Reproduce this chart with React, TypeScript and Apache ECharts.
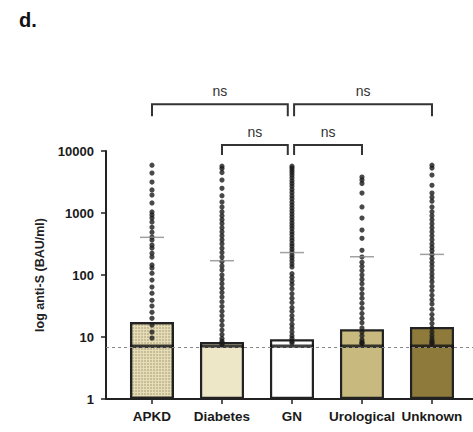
import React, { useEffect, useRef } from "react";
import * as echarts from "echarts";

const categories = ["APKD", "Diabetes", "GN", "Urological", "Unknown"];
const barValues = [17.5, 8.3, 9.2, 13.3, 14.5];
const medianValues = [7.1, 7.1, 7.1, 7.1, 7.1];
const meanValues = [405, 170, 230, 197, 215];
const cutoff = 6.8;
const barColors = ["#e6dcb6", "#ede6c7", "#ffffff", "#c8b97f", "#8e7b3b"];
const yTickLabels = ["1", "10", "100", "1000", "10000"];

const apkd = [5900, 4400, 3150, 2350, 1950, 1450, 1040, 930, 830, 716, 590, 490, 410, 367, 304, 272, 225, 195, 145, 130, 107, 83, 64, 51, 39, 31.6, 25, 20, 15.6, 12, 9.6];
const diabetes = [5700, 5200, 4500, 3400, 2500, 1900, 1500, 1250, 1050, 900, 780, 680, 580, 500, 430, 370, 320, 270, 230, 195, 165, 140, 120, 100, 85, 72, 61, 52, 44, 37, 31, 26, 22, 18.5, 15.5, 13, 11, 9.5, 8.5, 8, 7.6];
const gn = [5700, 5300, 4900, 4500, 4100, 3700, 3300, 3000, 2700, 2400, 2150, 1900, 1700, 1500, 1350, 1200, 1080, 960, 860, 770, 690, 620, 560, 500, 450, 400, 360, 320, 290, 260, 235, 210, 190, 170, 150, 135, 105, 92, 80, 70, 60, 50, 42, 36, 30, 26, 22, 19, 16, 14, 12, 10.5, 9.5, 8.5, 8];
const urological = [3800, 3400, 3000, 2100, 1250, 830, 530, 390, 250, 195, 160, 138, 118, 100, 85, 72, 60, 50, 42, 35, 29, 24, 20, 17, 14, 12, 10.5, 9, 8.3, 8, 7.8];
const unknown = [5900, 5300, 4100, 2800, 2100, 1800, 1550, 1250, 1050, 900, 780, 670, 580, 500, 430, 370, 320, 280, 245, 215, 185, 160, 140, 120, 104, 90, 78, 66, 56, 47, 40, 34, 28, 23, 19.5, 16.5, 14, 12, 10.5, 9.3, 8.5, 8, 7.8];
const groups = [apkd, diabetes, gn, urological, unknown];

// brackets: from index, to index, level (data units), drop (px), label
const bracketFrom = [0, 2.03, 1, 2.03];
const bracketTo = [1.94, 4, 1.94, 3];
const bracketLevel = [56600, 56600, 12500, 12500];
const bracketDrop = [12, 12, 10, 10];
const bracketLabels = ["ns", "ns", "ns", "ns"];

export default function App() {
  const ref = useRef<HTMLDivElement>(null);
  useEffect(() => {
    if (!ref.current) return;
    const chart = echarts.init(ref.current, null, { renderer: "svg" });
    const pts: number[][] = [];
    groups.forEach((g, i) => g.forEach((v) => pts.push([i, v])));
    const font = "Liberation Sans, Arial, sans-serif";
    chart.setOption({
      animation: false,
      backgroundColor: "#ffffff",
      title: {
        text: "d.",
        left: 14,
        top: 5,
        textStyle: { fontSize: 20, fontWeight: "bold", color: "#111", fontFamily: font },
      },
      grid: { left: 106, right: 0, top: 151, bottom: 33 },
      xAxis: {
        type: "value",
        min: -0.657,
        max: 4.586,
        splitLine: { show: false },
        axisLine: { show: true, onZero: false, lineStyle: { color: "#222", width: 2 } },
        axisTick: { show: true, length: 5, customValues: [0, 1, 2, 3, 4], lineStyle: { color: "#222", width: 1.5 } },
        axisLabel: {
          customValues: [0, 1, 2, 3, 4],
          formatter: (v: number) => categories[Math.round(v)] ?? "",
          fontSize: 13.5,
          fontWeight: "bold",
          color: "#1a1a1a",
          fontFamily: font,
          margin: 10,
        },
      },
      yAxis: {
        type: "log",
        logBase: 10,
        min: 1,
        max: 10000,
        name: "log anti-S (BAU/ml)",
        nameLocation: "middle",
        nameGap: 53,
        nameTextStyle: { fontSize: 12.5, fontWeight: "bold", color: "#222", fontFamily: font },
        splitLine: { show: false },
        minorTick: { show: false },
        axisLine: { show: true, onZero: false, lineStyle: { color: "#222", width: 2 } },
        axisTick: { show: true, length: 5, lineStyle: { color: "#222", width: 1.5 } },
        axisLabel: {
          formatter: (v: number) => yTickLabels[Math.round(Math.log10(v))] ?? String(v),
          fontSize: 13,
          fontWeight: "bold",
          color: "#1a1a1a",
          fontFamily: font,
          margin: 12,
        },
      },
      series: [
        {
          type: "bar",
          barWidth: 44,
          data: barValues.map((v, i) => ({
            value: [i, v],
            itemStyle: {
              color: barColors[i],
              borderColor: "#222",
              borderWidth: 2.2,
              decal:
                i === 0
                  ? {
                      symbol: "circle",
                      symbolSize: 0.8,
                      dashArrayX: [[2, 1]],
                      dashArrayY: [2, 1],
                      color: "rgba(90,80,50,0.35)",
                    }
                  : "none",
            },
          })),
          markLine: {
            silent: true,
            symbol: "none",
            label: { show: false },
            lineStyle: { type: [3, 3], color: "#888", width: 1 },
            data: [{ yAxis: cutoff }],
          },
          z: 2,
        },
        {
          type: "scatter",
          symbol: "rect",
          symbolSize: [44, 3.5],
          itemStyle: { color: "#111" },
          data: medianValues.map((v, i) => [i, v]),
          z: 3,
        },
        {
          type: "scatter",
          symbol: "circle",
          symbolSize: 5.2,
          itemStyle: { color: "#1a1a1a" },
          data: pts,
          z: 4,
        },
        {
          type: "scatter",
          symbol: "rect",
          symbolSize: [24, 1.5],
          itemStyle: { color: "#8a8a8a" },
          data: meanValues.map((v, i) => [i, v]),
          z: 5,
        },
        {
          type: "custom",
          clip: false,
          data: bracketFrom.map((f, i) => [f, bracketTo[i], bracketLevel[i], bracketDrop[i]]),
          renderItem: (params: any, api: any) => {
            const i = params.dataIndex;
            const p1 = api.coord([api.value(0), api.value(2)]);
            const p2 = api.coord([api.value(1), api.value(2)]);
            const d = api.value(3);
            return {
              type: "group",
              children: [
                {
                  type: "polyline",
                  shape: { points: [[p1[0], p1[1] + d], [p1[0], p1[1]], [p2[0], p2[1]], [p2[0], p2[1] + d]] },
                  style: { stroke: "#333", lineWidth: 2, fill: "none" },
                },
                {
                  type: "text",
                  x: (p1[0] + p2[0]) / 2,
                  y: p1[1] - 6,
                  style: {
                    text: bracketLabels[i],
                    fontSize: 14,
                    fontFamily: font,
                    fill: "#333",
                    align: "center",
                    verticalAlign: "bottom",
                  },
                },
              ],
            };
          },
          z: 6,
        },
      ],
    });
    return () => chart.dispose();
  }, []);
  return <div ref={ref} style={{ position: "fixed", left: 0, top: 0, width: 473, height: 432 }} />;
}
